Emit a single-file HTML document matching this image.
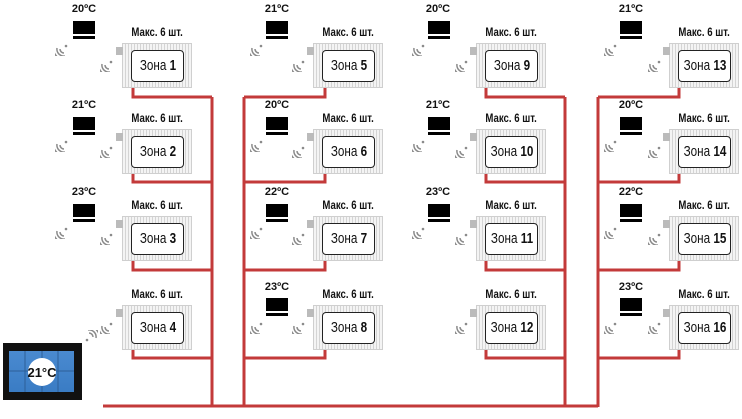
<!DOCTYPE html>
<html><head><meta charset="utf-8"><style>
body{margin:0;width:742px;height:419px;background:#fff;position:relative;overflow:hidden;font-family:"Liberation Sans",sans-serif}
.r{position:absolute;width:70px;height:45px;background:repeating-linear-gradient(90deg,#f4f4f4 0 2px,#d4d4d4 2px 3px);border:1px solid #cfcfcf;box-sizing:border-box}
.r .b{position:absolute;left:8px;top:6px;width:53px;height:32px;background:#fff;border:1.5px solid #222;border-radius:4px;box-sizing:border-box;font-size:15px;color:#111;overflow:visible}
.r .b span{position:absolute;left:50%;top:6px;white-space:nowrap;transform:translateX(-50%) scaleX(.78);line-height:17px}
.r .v{position:absolute;left:-7px;top:3px;width:7px;height:8px;background:#bbb}
.m{position:absolute;width:90px;text-align:center;font-size:12px;font-weight:bold;color:#111;white-space:nowrap}
.m span{display:inline-block;transform:scaleX(.8)}
.t{position:absolute;width:22px;height:18px}
.t i{position:absolute;left:0;top:0;width:22px;height:13px;background:#000}
.t u{position:absolute;left:0;top:15px;width:22px;height:3px;background:#000}
.tt{position:absolute;width:40px;text-align:center;font-size:11px;font-weight:bold;color:#111}
.w{position:absolute;width:16px;height:16px}
</style></head><body>
<svg width="742" height="419" style="position:absolute;left:0;top:0" fill="none" stroke="#c33a3a" stroke-width="3">
<path d="M133 88V97H212M133 174V182H212M133 261V270H212M133 350V358H212M212 97V407M103 406H598"/>
<path d="M325 88V97H244M325 174V182H244M325 261V270H244M325 350V358H244M244 97V407"/>
<path d="M486 88V97H565M486 174V182H565M486 261V270H565M486 350V358H565M565 97V407"/>
<path d="M679 88V97H598M679 174V182H598M679 261V270H598M679 350V358H598M598 97V407"/>
</svg>
<svg width="0" height="0" style="position:absolute"><defs><g id="wf" fill="none" stroke="#8a8a8a" stroke-width="1.5"><path d="M9 9 m-4 0 a4 4 0 0 0 4 4"/><path d="M9 9 m-7 -1 a7 7 0 0 0 8 8"/><path d="M9 9 m-10 -2 a10 10 0 0 0 12 12"/><circle cx="11" cy="6" r="1.3" fill="#8a8a8a" stroke="none"/></g></defs></svg>

<!-- panel -->
<div style="position:absolute;left:3px;top:343px;width:79px;height:57px;background:#111"></div>
<div style="position:absolute;left:9px;top:351px;width:65px;height:41px;background:linear-gradient(#4a8ad0,#3a7cc4);"></div>
<svg style="position:absolute;left:9px;top:351px" width="65" height="41"><g stroke="#2d5f98" stroke-width="1"><path d="M16 0V41M33 0V41M49 0V41M0 20H65"/></g><circle cx="33" cy="21" r="14" fill="#fff"/><text x="33" y="26" text-anchor="middle" font-family="Liberation Sans" font-weight="bold" font-size="13" fill="#111">21°C</text></svg>
<svg class="w" style="left:82px;top:330px;transform:rotate(180deg)" viewBox="0 0 16 16"><use href="#wf"/></svg>

<!-- Column 1 -->
<div class="tt" style="left:64px;top:3px">20ºC</div><div class="t" style="left:73px;top:21px"><i></i><u></u></div><svg class="w" style="left:55px;top:40px" viewBox="0 0 16 16"><use href="#wf"/></svg>
<div class="m" style="left:112px;top:25px"><span>Макс. 6 шт.</span></div><svg class="w" style="left:100px;top:56px" viewBox="0 0 16 16"><use href="#wf"/></svg>
<div class="r" style="left:122px;top:43px"><div class="v"></div><div class="b"><span>Зона <b>1</b></span></div></div>
<div class="tt" style="left:64px;top:99px">21ºC</div><div class="t" style="left:73px;top:117px"><i></i><u></u></div><svg class="w" style="left:55px;top:136px" viewBox="0 0 16 16"><use href="#wf"/></svg>
<div class="m" style="left:112px;top:111px"><span>Макс. 6 шт.</span></div><svg class="w" style="left:100px;top:142px" viewBox="0 0 16 16"><use href="#wf"/></svg>
<div class="r" style="left:122px;top:129px"><div class="v"></div><div class="b"><span>Зона <b>2</b></span></div></div>
<div class="tt" style="left:64px;top:186px">23ºC</div><div class="t" style="left:73px;top:204px"><i></i><u></u></div><svg class="w" style="left:55px;top:223px" viewBox="0 0 16 16"><use href="#wf"/></svg>
<div class="m" style="left:112px;top:198px"><span>Макс. 6 шт.</span></div><svg class="w" style="left:100px;top:229px" viewBox="0 0 16 16"><use href="#wf"/></svg>
<div class="r" style="left:122px;top:216px"><div class="v"></div><div class="b"><span>Зона <b>3</b></span></div></div>
<div class="m" style="left:112px;top:287px"><span>Макс. 6 шт.</span></div><svg class="w" style="left:100px;top:318px" viewBox="0 0 16 16"><use href="#wf"/></svg>
<div class="r" style="left:122px;top:305px"><div class="v"></div><div class="b"><span>Зона <b>4</b></span></div></div>

<!-- Column 2 -->
<div class="tt" style="left:257px;top:3px">21ºC</div><div class="t" style="left:266px;top:21px"><i></i><u></u></div><svg class="w" style="left:250px;top:40px" viewBox="0 0 16 16"><use href="#wf"/></svg>
<div class="m" style="left:303px;top:25px"><span>Макс. 6 шт.</span></div><svg class="w" style="left:292px;top:56px" viewBox="0 0 16 16"><use href="#wf"/></svg>
<div class="r" style="left:313px;top:43px"><div class="v"></div><div class="b"><span>Зона <b>5</b></span></div></div>
<div class="tt" style="left:257px;top:99px">20ºC</div><div class="t" style="left:266px;top:117px"><i></i><u></u></div><svg class="w" style="left:250px;top:136px" viewBox="0 0 16 16"><use href="#wf"/></svg>
<div class="m" style="left:303px;top:111px"><span>Макс. 6 шт.</span></div><svg class="w" style="left:292px;top:142px" viewBox="0 0 16 16"><use href="#wf"/></svg>
<div class="r" style="left:313px;top:129px"><div class="v"></div><div class="b"><span>Зона <b>6</b></span></div></div>
<div class="tt" style="left:257px;top:186px">22ºC</div><div class="t" style="left:266px;top:204px"><i></i><u></u></div><svg class="w" style="left:250px;top:223px" viewBox="0 0 16 16"><use href="#wf"/></svg>
<div class="m" style="left:303px;top:198px"><span>Макс. 6 шт.</span></div><svg class="w" style="left:292px;top:229px" viewBox="0 0 16 16"><use href="#wf"/></svg>
<div class="r" style="left:313px;top:216px"><div class="v"></div><div class="b"><span>Зона <b>7</b></span></div></div>
<div class="tt" style="left:257px;top:281px">23ºC</div><div class="t" style="left:266px;top:298px"><i></i><u></u></div><svg class="w" style="left:250px;top:318px" viewBox="0 0 16 16"><use href="#wf"/></svg>
<div class="m" style="left:303px;top:287px"><span>Макс. 6 шт.</span></div><svg class="w" style="left:292px;top:318px" viewBox="0 0 16 16"><use href="#wf"/></svg>
<div class="r" style="left:313px;top:305px"><div class="v"></div><div class="b"><span>Зона <b>8</b></span></div></div>

<!-- Column 3 -->
<div class="tt" style="left:418px;top:3px">20ºC</div><div class="t" style="left:428px;top:21px"><i></i><u></u></div><svg class="w" style="left:412px;top:40px" viewBox="0 0 16 16"><use href="#wf"/></svg>
<div class="m" style="left:466px;top:25px"><span>Макс. 6 шт.</span></div><svg class="w" style="left:455px;top:56px" viewBox="0 0 16 16"><use href="#wf"/></svg>
<div class="r" style="left:476px;top:43px"><div class="v"></div><div class="b"><span>Зона <b>9</b></span></div></div>
<div class="tt" style="left:418px;top:99px">21ºC</div><div class="t" style="left:428px;top:117px"><i></i><u></u></div><svg class="w" style="left:412px;top:136px" viewBox="0 0 16 16"><use href="#wf"/></svg>
<div class="m" style="left:466px;top:111px"><span>Макс. 6 шт.</span></div><svg class="w" style="left:455px;top:142px" viewBox="0 0 16 16"><use href="#wf"/></svg>
<div class="r" style="left:476px;top:129px"><div class="v"></div><div class="b"><span>Зона <b>10</b></span></div></div>
<div class="tt" style="left:418px;top:186px">23ºC</div><div class="t" style="left:428px;top:204px"><i></i><u></u></div><svg class="w" style="left:412px;top:223px" viewBox="0 0 16 16"><use href="#wf"/></svg>
<div class="m" style="left:466px;top:198px"><span>Макс. 6 шт.</span></div><svg class="w" style="left:455px;top:229px" viewBox="0 0 16 16"><use href="#wf"/></svg>
<div class="r" style="left:476px;top:216px"><div class="v"></div><div class="b"><span>Зона <b>11</b></span></div></div>
<div class="m" style="left:466px;top:287px"><span>Макс. 6 шт.</span></div><svg class="w" style="left:455px;top:318px" viewBox="0 0 16 16"><use href="#wf"/></svg>
<div class="r" style="left:476px;top:305px"><div class="v"></div><div class="b"><span>Зона <b>12</b></span></div></div>

<!-- Column 4 -->
<div class="tt" style="left:611px;top:3px">21ºC</div><div class="t" style="left:620px;top:21px"><i></i><u></u></div><svg class="w" style="left:604px;top:40px" viewBox="0 0 16 16"><use href="#wf"/></svg>
<div class="m" style="left:659px;top:25px"><span>Макс. 6 шт.</span></div><svg class="w" style="left:648px;top:56px" viewBox="0 0 16 16"><use href="#wf"/></svg>
<div class="r" style="left:669px;top:43px"><div class="v"></div><div class="b"><span>Зона <b>13</b></span></div></div>
<div class="tt" style="left:611px;top:99px">20ºC</div><div class="t" style="left:620px;top:117px"><i></i><u></u></div><svg class="w" style="left:604px;top:136px" viewBox="0 0 16 16"><use href="#wf"/></svg>
<div class="m" style="left:659px;top:111px"><span>Макс. 6 шт.</span></div><svg class="w" style="left:648px;top:142px" viewBox="0 0 16 16"><use href="#wf"/></svg>
<div class="r" style="left:669px;top:129px"><div class="v"></div><div class="b"><span>Зона <b>14</b></span></div></div>
<div class="tt" style="left:611px;top:186px">22ºC</div><div class="t" style="left:620px;top:204px"><i></i><u></u></div><svg class="w" style="left:604px;top:223px" viewBox="0 0 16 16"><use href="#wf"/></svg>
<div class="m" style="left:659px;top:198px"><span>Макс. 6 шт.</span></div><svg class="w" style="left:648px;top:229px" viewBox="0 0 16 16"><use href="#wf"/></svg>
<div class="r" style="left:669px;top:216px"><div class="v"></div><div class="b"><span>Зона <b>15</b></span></div></div>
<div class="tt" style="left:611px;top:281px">23ºC</div><div class="t" style="left:620px;top:298px"><i></i><u></u></div><svg class="w" style="left:604px;top:318px" viewBox="0 0 16 16"><use href="#wf"/></svg>
<div class="m" style="left:659px;top:287px"><span>Макс. 6 шт.</span></div><svg class="w" style="left:648px;top:318px" viewBox="0 0 16 16"><use href="#wf"/></svg>
<div class="r" style="left:669px;top:305px"><div class="v"></div><div class="b"><span>Зона <b>16</b></span></div></div>
</body></html>
